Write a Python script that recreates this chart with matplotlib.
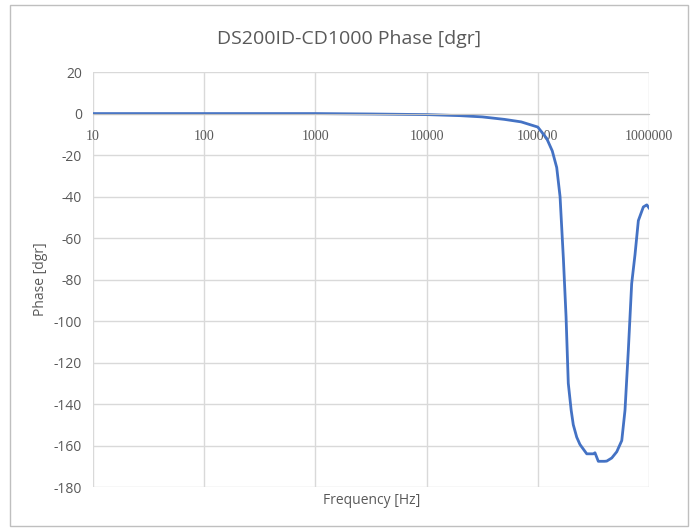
import matplotlib
matplotlib.use("Agg")
import matplotlib.pyplot as plt
from matplotlib.patches import Rectangle

# Frequency [Hz] and phase [dgr]
freq = [10, 100, 1000, 3162, 10000, 19953, 31623, 50119, 70795, 100000,
        120226, 134896, 147911, 158489, 164059, 169824, 179473, 187932,
        199526, 208449, 223872, 239332, 275423, 316228, 326588, 349945,
        398107, 416869, 462381, 512861, 568853, 608135, 651628, 698232,
        748158, 801678, 889201, 954993, 1000000]
phase = [0.0, 0.0, 0.0, -0.2, -0.5, -1.0, -1.6, -2.8, -4.0, -6.5,
         -12.0, -18.0, -26.0, -40.0, -55.0, -70.0, -98.0, -130.0,
         -143.0, -150.0, -156.0, -159.5, -164.0, -164.0, -163.5, -167.6,
         -167.6, -167.5, -166.0, -163.0, -157.6, -143.0, -114.0, -82.0,
         -68.0, -51.6, -45.0, -44.0, -45.5]

x_ticks = [10, 100, 1000, 10000, 100000, 1000000]
x_tick_labels = ["10", "100", "1000", "10000", "100000", "1000000"]
y_ticks = list(range(-180, 21, 20))

plt.rcParams['font.family'] = ['Open Sans', 'DejaVu Sans']
text_color = "#595959"
grid_color = "#d9d9d9"

fig = plt.figure(figsize=(6.96, 5.30), dpi=100)
ax = fig.add_axes([0.1336, 0.0811, 0.7989, 0.7829])

ax.plot(freq, phase, color="#4472C4", linewidth=2)

ax.set_xscale('log')
ax.set_xlim(10, 1000000)
ax.set_ylim(-180, 20)
ax.set_yticks(y_ticks)
ax.set_yticklabels([str(v) for v in y_ticks])
ax.set_xticks(x_ticks)
ax.set_xticklabels(x_tick_labels)
ax.minorticks_off()

ax.grid(True, color=grid_color, linewidth=1)
ax.set_axisbelow(True)
for side in ['top', 'right', 'left']:
    ax.spines[side].set_visible(False)
ax.spines['bottom'].set_position(('data', 0))
ax.spines['bottom'].set_color("#bfbfbf")
ax.tick_params(length=0, colors=text_color, labelsize=10)
ax.tick_params(axis='y', pad=8)
ax.tick_params(axis='x', pad=12)
for lbl in ax.get_xticklabels():
    lbl.set_fontfamily(['Liberation Serif', 'DejaVu Serif'])

ax.set_ylabel("Phase [dgr]", color=text_color, fontsize=10, labelpad=4)
fig.text(0.5336, 0.055, "Frequency [Hz]", ha='center', va='center',
         color=text_color, fontsize=10)
fig.text(0.502, 0.927, "DS200ID-CD1000 Phase [dgr]", ha='center',
         va='center', color=text_color, fontsize=14)

fig.patches.append(Rectangle((0.014, 0.008), 0.975, 0.982,
                             transform=fig.transFigure, fill=False,
                             edgecolor="#bfbfbf", linewidth=1))

fig.savefig("out.png", dpi=100)
